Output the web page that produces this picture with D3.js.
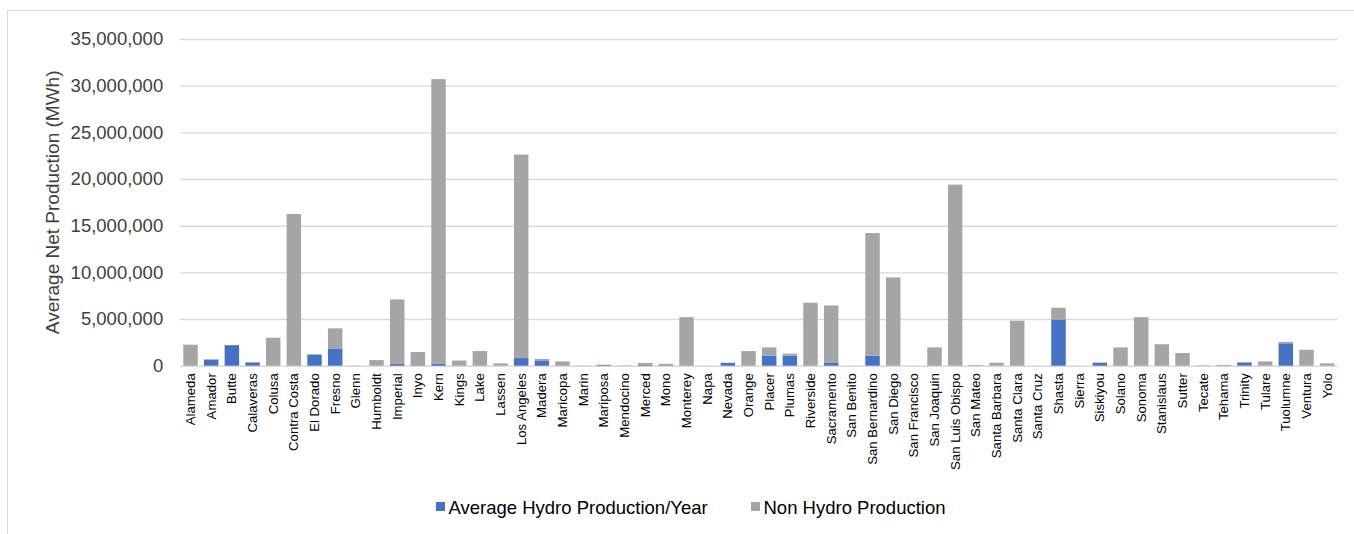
<!DOCTYPE html>
<html>
<head>
<meta charset="utf-8">
<script src="https://cdn.jsdelivr.net/npm/d3@7"></script>
<style>
  body { margin: 0; background: #fff; }
  svg { font-family: "Liberation Sans", Arial, sans-serif; }
</style>
</head>
<body>
<svg id="chart" width="1354" height="534"></svg>
<script>
const counties = [
  "Alameda", "Amador", "Butte", "Calaveras", "Colusa", "Contra Costa", "El Dorado",
  "Fresno", "Glenn", "Humboldt", "Imperial", "Inyo", "Kern", "Kings", "Lake", "Lassen",
  "Los Angeles", "Madera", "Maricopa", "Marin", "Mariposa", "Mendocino", "Merced", "Mono",
  "Monterey", "Napa", "Nevada", "Orange", "Placer", "Plumas", "Riverside", "Sacramento",
  "San Benito", "San Bernardino", "San Diego", "San Francisco", "San Joaquin",
  "San Luis Obispo", "San Mateo", "Santa Barbara", "Santa Clara", "Santa Cruz", "Shasta",
  "Sierra", "Siskiyou", "Solano", "Sonoma", "Stanislaus", "Sutter", "Tecate", "Tehama",
  "Trinity", "Tulare", "Tuolumne", "Ventura", "Yolo"
];

const hydro = [
  0, 650000, 2200000, 350000, 0, 0, 1200000,
  1850000, 0, 0, 200000, 50000, 200000, 0, 0, 20000,
  820000, 570000, 0, 0, 80000, 20000, 100000, 50000,
  0, 0, 300000, 0, 1070000, 1070000, 0, 350000,
  0, 1070000, 0, 0, 0,
  0, 0, 0, 0, 0, 4960000,
  0, 300000, 0, 0, 0, 0, 0, 50000,
  350000, 20000, 2400000, 0, 0
];

const nonHydro = [
  2250000, 50000, 20000, 0, 3000000, 16250000, 0,
  2150000, 20000, 600000, 6900000, 1420000, 30500000, 550000, 1570000, 230000,
  21800000, 150000, 460000, 20000, 20000, 10000, 200000, 150000,
  5200000, 10000, 20000, 1570000, 890000, 220000, 6750000, 6100000,
  10000, 13150000, 9460000, 10000, 1960000,
  19400000, 80000, 320000, 4820000, 10000, 1250000,
  10000, 50000, 1960000, 5200000, 2300000, 1360000, 50000, 20000,
  20000, 440000, 150000, 1710000, 250000
];

const yTicks = [0, 5000000, 10000000, 15000000, 20000000, 25000000, 30000000, 35000000];
const seriesNames = ["Average Hydro Production/Year", "Non Hydro Production"];
const seriesColors = ["#4472C4", "#A5A5A5"];

const plot = { left: 180.2, right: 1337.5, top: 39, bottom: 365.7 };

const svg = d3.select("#chart");

// outer chart frame (runs off the page on the right and bottom)
svg.append("rect")
  .attr("x", 7.5).attr("y", 10.5)
  .attr("width", 1400).attr("height", 600)
  .attr("fill", "none")
  .attr("stroke", "#d9d9d9");

const x = d3.scaleBand()
  .domain(counties)
  .range([plot.left, plot.right])
  .paddingInner(0.3)
  .paddingOuter(0.15);

const y = d3.scaleLinear()
  .domain([0, 35000000])
  .range([plot.bottom, plot.top]);

// gridlines + y labels
const yAxis = svg.append("g")
  .attr("transform", `translate(${plot.left},0)`)
  .call(d3.axisLeft(y)
    .tickValues(yTicks)
    .tickSize(-(plot.right - plot.left))
    .tickPadding(17)
    .tickFormat(d3.format(",")));
yAxis.select(".domain").remove();
yAxis.selectAll("line").attr("stroke", "#d9d9d9").attr("stroke-width", 1.4);
yAxis.selectAll("text")
  .attr("fill", "#404040")
  .style("font-size", "18.5px")
  .style("font-family", "'Liberation Sans', Arial, sans-serif");

const rows = counties.map((c, i) => ({ county: c, hydro: hydro[i], non: nonHydro[i] }));
const stacked = d3.stack().keys(["hydro", "non"])(rows);

svg.append("g")
  .selectAll("g")
  .data(stacked)
  .join("g")
  .attr("fill", (d, i) => seriesColors[i])
  .selectAll("rect")
  .data((d) => d)
  .join("rect")
  .attr("x", (d) => x(d.data.county))
  .attr("width", x.bandwidth())
  .attr("y", (d) => y(d[1]))
  .attr("height", (d) => Math.max(0, y(d[0]) - y(d[1])));

// category labels
svg.append("g")
  .selectAll("text")
  .data(counties)
  .join("text")
  .attr("transform", (d) => `translate(${x(d) + x.bandwidth() / 2},${plot.bottom + 7.5}) rotate(-90)`)
  .attr("dy", "0.35em")
  .attr("text-anchor", "end")
  .attr("fill", "#000")
  .style("font-size", "13.2px")
  .text((d) => d);

// y axis title
svg.append("text")
  .attr("transform", `translate(59,${(plot.top + plot.bottom) / 2}) rotate(-90)`)
  .attr("text-anchor", "middle")
  .attr("fill", "#404040")
  .style("font-size", "19px")
  .text("Average Net Production (MWh)");

// legend
const legendX = [436, 751];
const legend = svg.append("g")
  .selectAll("g")
  .data(seriesNames)
  .join("g")
  .attr("transform", (d, i) => `translate(${legendX[i]},502)`);
legend.append("rect")
  .attr("width", 9).attr("height", 9)
  .attr("fill", (d, i) => seriesColors[i]);
legend.append("text")
  .attr("x", 12.5).attr("y", 11.5)
  .attr("fill", "#000")
  .style("font-size", "18.5px")
  .text((d) => d);
</script>
</body>
</html>
